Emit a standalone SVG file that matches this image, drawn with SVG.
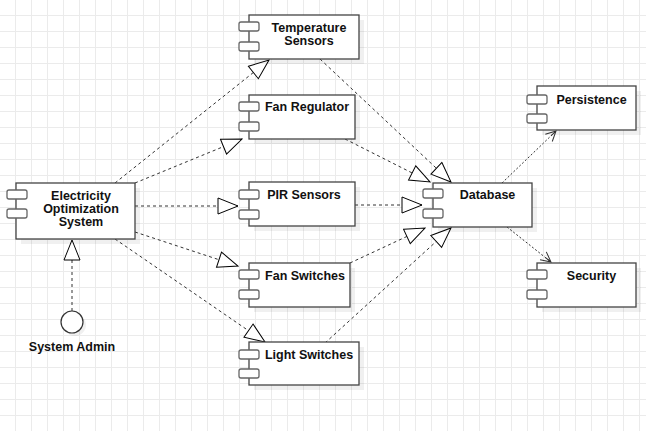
<svg xmlns="http://www.w3.org/2000/svg" width="646" height="431" viewBox="0 0 646 431">
<style>
.box{fill:#fff;stroke:#444;stroke-width:1.3}
.sh{fill:#000;opacity:0.06}
.port{fill:#fff;stroke:#666;stroke-width:1.3}
.lbl{font-family:"Liberation Sans",Arial,sans-serif;font-size:12.5px;font-weight:bold;fill:#111;text-anchor:middle}
.dep{fill:none;stroke:#333;stroke-width:1;stroke-dasharray:3,3}
.dot{fill:none;stroke:#333;stroke-width:1;stroke-dasharray:2,2}
</style>
<defs>
<pattern id="grid" width="16" height="16" patternUnits="userSpaceOnUse" x="15" y="15">
<path d="M0 0.5H16M0.5 0V16" fill="none" stroke="#ebebeb" stroke-width="1"/>
</pattern>
<marker id="tri" markerUnits="userSpaceOnUse" markerWidth="22" markerHeight="18" refX="20" refY="8" orient="auto" viewBox="-1 -1 22 18">
<path d="M0,0 L20,8 L0,16 Z" fill="#fff" stroke="#000" stroke-width="1"/>
</marker>
<marker id="open" markerUnits="userSpaceOnUse" markerWidth="12" markerHeight="12" refX="10" refY="5" orient="auto" viewBox="-1 -1 12 12">
<path d="M0,0 L10,5 L0,10 M3,5 L10,5" fill="none" stroke="#333" stroke-width="1"/>
</marker>
</defs>
<rect width="646" height="431" fill="#fff"/>
<rect width="646" height="431" fill="url(#grid)"/>

<g id="connectors">
<path class="dep" d="M115,183 L269,60" marker-end="url(#tri)"/>
<path class="dep" d="M135,183 L242,139" marker-end="url(#tri)"/>
<path class="dep" d="M135,206 L238,206" marker-end="url(#tri)"/>
<path class="dep" d="M135,232 L238,266" marker-end="url(#tri)"/>
<path class="dep" d="M115,239 L265,342" marker-end="url(#tri)"/>
<path class="dep" d="M320,59 L451,182" marker-end="url(#tri)"/>
<path class="dep" d="M345,139 L430,182" marker-end="url(#tri)"/>
<path class="dep" d="M355,205 L422,205" marker-end="url(#tri)"/>
<path class="dep" d="M350,263 L425,228" marker-end="url(#tri)"/>
<path class="dep" d="M325,343 L451,228" marker-end="url(#tri)"/>
<path class="dot" d="M502,183 L556,131" marker-end="url(#open)"/>
<path class="dot" d="M507,227 L551,262" marker-end="url(#open)"/>
<path class="dep" d="M72,311 L72,240" marker-end="url(#tri)"/>
</g>

<g id="eos">
<rect class="sh" x="21" y="188" width="119" height="56"/>
<rect class="box" x="16" y="183" width="119" height="56"/>
<rect class="port" x="7" y="190" width="20" height="9" rx="2"/>
<rect class="port" x="7" y="209" width="20" height="9" rx="2"/>
<text class="lbl" x="81" y="200">Electricity</text>
<text class="lbl" x="81" y="213">Optimization</text>
<text class="lbl" x="81" y="226">System</text>
</g>

<g id="temp">
<rect class="sh" x="254" y="20" width="110" height="44"/>
<rect class="box" x="249" y="15" width="110" height="44"/>
<rect class="port" x="239" y="22" width="20" height="9" rx="2"/>
<rect class="port" x="239" y="42" width="20" height="9" rx="2"/>
<text class="lbl" x="309" y="32">Temperature</text>
<text class="lbl" x="309" y="45">Sensors</text>
</g>

<g id="fanreg">
<rect class="sh" x="254" y="100" width="106" height="44"/>
<rect class="box" x="249" y="95" width="106" height="44"/>
<rect class="port" x="239" y="102" width="20" height="9" rx="2"/>
<rect class="port" x="239" y="122" width="20" height="9" rx="2"/>
<text class="lbl" x="307" y="111">Fan Regulator</text>
</g>

<g id="pir">
<rect class="sh" x="254" y="187" width="106" height="44"/>
<rect class="box" x="249" y="182" width="106" height="44"/>
<rect class="port" x="239" y="190" width="20" height="9" rx="2"/>
<rect class="port" x="239" y="210" width="20" height="9" rx="2"/>
<text class="lbl" x="304" y="199">PIR Sensors</text>
</g>

<g id="fansw">
<rect class="sh" x="254" y="268" width="101" height="44"/>
<rect class="box" x="249" y="263" width="101" height="44"/>
<rect class="port" x="239" y="270" width="20" height="9" rx="2"/>
<rect class="port" x="239" y="290" width="20" height="9" rx="2"/>
<text class="lbl" x="305" y="280">Fan Switches</text>
</g>

<g id="light">
<rect class="sh" x="254" y="347" width="110" height="43"/>
<rect class="box" x="249" y="342" width="110" height="43"/>
<rect class="port" x="239" y="350" width="20" height="9" rx="2"/>
<rect class="port" x="239" y="369" width="20" height="9" rx="2"/>
<text class="lbl" x="309" y="359">Light Switches</text>
</g>

<g id="db">
<rect class="sh" x="438" y="188" width="99" height="44"/>
<rect class="box" x="433" y="183" width="99" height="44"/>
<rect class="port" x="423" y="189" width="20" height="9" rx="2"/>
<rect class="port" x="423" y="209" width="20" height="9" rx="2"/>
<text class="lbl" x="487.5" y="199">Database</text>
</g>

<g id="pers">
<rect class="sh" x="542" y="91" width="99" height="44"/>
<rect class="box" x="537" y="86" width="99" height="44"/>
<rect class="port" x="527" y="95" width="20" height="9" rx="2"/>
<rect class="port" x="527" y="114" width="20" height="9" rx="2"/>
<text class="lbl" x="591.5" y="104">Persistence</text>
</g>

<g id="sec">
<rect class="sh" x="542" y="268" width="99" height="44"/>
<rect class="box" x="537" y="263" width="99" height="44"/>
<rect class="port" x="527" y="270" width="20" height="9" rx="2"/>
<rect class="port" x="527" y="290" width="20" height="9" rx="2"/>
<text class="lbl" x="591.5" y="280">Security</text>
</g>

<g id="admin">
<circle class="sh" cx="75" cy="325" r="11"/>
<circle cx="72" cy="322" r="11" fill="#fff" stroke="#333" stroke-width="1.2"/>
<text class="lbl" x="72" y="351">System Admin</text>
</g>
</svg>
